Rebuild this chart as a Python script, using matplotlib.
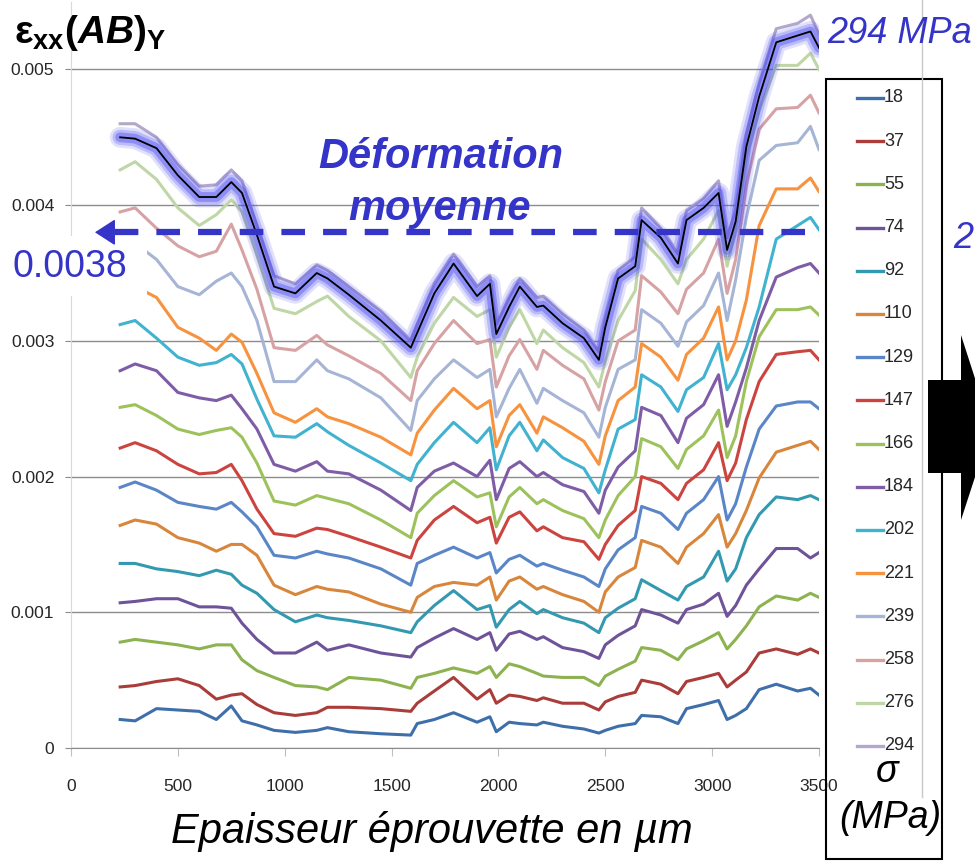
import numpy as np
import matplotlib.pyplot as plt
from matplotlib.patches import Rectangle, Polygon
from matplotlib.lines import Line2D

plt.rcParams['mathtext.fontset'] = 'custom'
plt.rcParams['mathtext.rm'] = 'Liberation Sans'
plt.rcParams['mathtext.bf'] = 'Liberation Sans:bold'
plt.rcParams['mathtext.it'] = 'Liberation Sans:italic'
plt.rcParams['mathtext.bfit'] = 'Liberation Sans:bold:italic'
plt.rcParams['lines.scale_dashes'] = False

# --- data (strain in 1e-4 units) ---
x_um = [230, 300, 400, 500, 600, 680, 750, 800, 870, 950,
        1050, 1150, 1200, 1300, 1450, 1590, 1620, 1700, 1790, 1900,
        1960, 1990, 2050, 2100, 2180, 2210, 2300, 2400, 2470, 2500,
        2560, 2640, 2670, 2760, 2840, 2880, 2960, 3030, 3070, 3110,
        3160, 3220, 3300, 3400, 3460, 3500]

stress = [18, 37, 55, 74, 92, 110, 129, 147, 166, 184, 202, 221, 239, 258, 276, 294]

s18 = [2.1, 2.0, 2.9, 2.8, 2.7, 2.1, 3.1, 2.0, 1.7, 1.3,
       1.15, 1.3, 1.5, 1.2, 1.05, 0.95, 1.8, 2.1, 2.6, 1.9,
       2.3, 1.2, 1.9, 1.8, 1.7, 1.9, 1.6, 1.4, 1.1, 1.3,
       1.6, 1.8, 2.4, 2.3, 1.8, 2.9, 3.2, 3.5, 2.1, 2.4,
       2.9, 4.3, 4.7, 4.2, 4.4, 3.9]
s37 = [4.5, 4.6, 4.9, 5.1, 4.6, 3.6, 3.9, 4.0, 3.2, 2.6,
       2.4, 2.6, 3.0, 3.0, 2.9, 2.7, 3.3, 4.2, 5.2, 3.6,
       4.3, 3.3, 3.9, 3.8, 3.5, 3.7, 3.3, 3.3, 2.8, 3.4,
       3.8, 4.1, 5.0, 4.7, 4.0, 4.9, 5.2, 5.5, 4.5, 5.0,
       5.6, 7.0, 7.3, 6.9, 7.3, 7.0]
s55 = [7.8, 8.0, 7.8, 7.6, 7.3, 7.6, 7.6, 6.5, 5.7, 5.2,
       4.6, 4.5, 4.3, 5.2, 5.0, 4.4, 5.2, 5.5, 5.9, 5.5,
       6.0, 5.2, 6.2, 6.0, 5.5, 5.3, 5.2, 5.2, 4.6, 5.3,
       5.8, 6.4, 7.4, 7.2, 6.5, 7.3, 7.9, 8.5, 7.3, 8.0,
       9.0, 10.4, 11.2, 10.9, 11.4, 11.1]
s74 = [10.7, 10.8, 11.0, 11.0, 10.4, 10.4, 10.3, 9.2, 8.0, 7.0,
       7.0, 7.8, 7.2, 7.6, 7.0, 6.7, 7.4, 8.1, 8.8, 8.0,
       8.5, 7.2, 8.4, 8.6, 8.0, 8.2, 7.4, 7.1, 6.6, 7.6,
       8.3, 9.0, 10.2, 9.8, 9.2, 10.2, 10.6, 11.4, 9.7, 10.5,
       12.0, 13.2, 14.7, 14.7, 14.0, 14.4]
s92 = [13.6, 13.6, 13.2, 13.0, 12.7, 13.1, 12.8, 12.0, 11.4, 10.2,
       9.3, 9.8, 9.6, 9.4, 9.0, 8.5, 9.3, 10.5, 11.6, 10.2,
       10.5, 8.9, 10.2, 10.8, 9.9, 10.2, 9.6, 9.2, 8.5, 9.6,
       10.3, 11.0, 12.4, 11.6, 10.9, 11.9, 12.6, 14.5, 12.3, 13.2,
       15.5, 17.2, 18.5, 18.3, 18.6, 18.3]
s110 = [16.4, 16.8, 16.5, 15.5, 15.1, 14.5, 15.0, 15.0, 14.2, 12.0,
        11.3, 11.9, 11.7, 11.5, 10.6, 10.0, 11.1, 11.9, 12.2, 12.0,
        12.6, 10.9, 12.3, 12.6, 11.7, 11.9, 11.3, 10.8, 10.0, 11.5,
        12.6, 13.3, 15.3, 14.8, 13.6, 14.8, 15.8, 17.2, 14.8, 15.8,
        17.5, 19.9, 21.8, 22.3, 22.6, 22.0]
s129 = [19.2, 19.6, 19.0, 18.1, 17.8, 17.6, 18.1, 17.4, 16.3, 14.2,
        14.0, 14.5, 14.3, 14.0, 13.2, 12.0, 13.6, 14.2, 14.8, 14.0,
        14.4, 12.9, 13.9, 14.2, 13.4, 13.6, 13.1, 12.6, 11.9, 13.2,
        14.6, 15.5, 17.8, 17.3, 16.1, 17.3, 18.3, 20.0, 16.8, 18.0,
        20.7, 23.5, 25.2, 25.5, 25.5, 25.0]
s147 = [22.1, 22.5, 21.9, 20.9, 20.2, 20.3, 20.9, 19.7, 17.6, 15.8,
        15.6, 16.2, 16.1, 15.6, 14.8, 14.0, 15.3, 16.8, 17.8, 16.6,
        17.0, 15.1, 17.0, 17.4, 16.0, 16.3, 15.5, 15.2, 13.9, 15.0,
        16.4, 17.5, 20.0, 19.5, 18.3, 19.5, 20.5, 22.5, 19.7, 21.0,
        24.2, 27.0, 29.0, 29.2, 29.3, 28.6]
s166 = [25.1, 25.3, 24.5, 23.5, 23.1, 23.4, 23.6, 22.9, 21.0, 18.2,
        17.9, 18.6, 18.4, 18.0, 16.8, 15.5, 17.3, 18.6, 19.7, 18.5,
        18.8, 16.3, 18.5, 19.2, 18.0, 18.3, 17.5, 16.9, 15.5, 16.8,
        18.6, 20.0, 22.8, 22.2, 20.6, 22.0, 23.0, 24.9, 21.4, 23.0,
        27.0, 30.3, 32.3, 32.3, 32.5, 31.9]
s184 = [27.8, 28.3, 27.8, 26.2, 25.8, 25.6, 26.0, 25.0, 23.5, 20.9,
        20.4, 21.1, 20.4, 20.2, 19.0, 17.5, 19.2, 20.4, 21.0, 20.0,
        21.2, 18.3, 20.6, 21.1, 20.0, 20.3, 19.4, 18.9, 17.3, 19.0,
        20.7, 21.9, 25.1, 24.5, 22.5, 24.3, 25.3, 27.5, 23.7, 25.5,
        28.0, 31.5, 34.7, 35.4, 35.7, 35.0]
s202 = [31.2, 31.5, 30.2, 28.8, 28.2, 28.4, 29.0, 28.3, 25.7, 23.0,
        22.9, 23.9, 23.3, 22.3, 21.0, 19.7, 20.9, 22.5, 24.0, 22.5,
        23.6, 20.5, 23.0, 24.0, 21.9, 22.7, 21.4, 20.6, 18.8, 20.5,
        23.5, 24.2, 27.5, 26.6, 24.8, 26.4, 27.3, 29.8, 26.4, 27.5,
        29.5, 32.5, 37.5, 38.5, 39.1, 38.2]
s221 = [34.2, 34.0, 33.2, 31.0, 30.2, 29.3, 30.5, 29.9, 27.6, 24.7,
        24.0, 25.0, 24.4, 23.9, 22.9, 21.6, 23.2, 24.9, 26.5, 25.0,
        25.6, 22.2, 24.5, 25.3, 23.2, 24.4, 23.6, 22.6, 20.9, 23.0,
        25.6, 26.6, 29.8, 28.8, 27.1, 29.0, 30.2, 32.5, 28.6, 30.0,
        33.0, 38.5, 41.2, 41.2, 42.0, 41.0]
s239 = [37.0, 37.2, 36.0, 34.0, 33.4, 34.4, 35.0, 34.0, 31.5, 27.0,
        27.0, 28.6, 27.8, 27.2, 25.8, 23.4, 25.6, 27.2, 28.6, 27.3,
        27.9, 24.4, 26.5, 27.9, 25.4, 26.5, 25.6, 24.7, 22.9, 25.1,
        27.9, 28.6, 32.3, 31.3, 29.6, 31.4, 32.6, 35.0, 31.5, 34.5,
        39.1, 43.3, 44.4, 44.6, 45.8, 44.1]
s258 = [39.5, 39.8, 38.3, 37.0, 36.2, 36.6, 38.6, 36.7, 33.8, 29.5,
        29.3, 30.4, 29.7, 28.9, 27.6, 25.6, 27.8, 29.8, 31.5, 29.8,
        30.1, 26.6, 28.9, 30.1, 27.9, 29.3, 28.2, 27.2, 24.9, 27.0,
        30.0, 30.8, 34.8, 33.6, 32.0, 33.8, 35.0, 37.5, 33.5, 36.0,
        41.5, 45.6, 47.1, 47.2, 48.1, 46.8]
s276 = [42.6, 43.2, 41.9, 39.8, 38.5, 39.3, 40.4, 39.5, 36.3, 32.4,
        32.0, 32.9, 33.3, 31.8, 30.0, 27.3, 28.8, 31.3, 33.2, 31.8,
        32.3, 28.8, 31.0, 32.3, 29.8, 30.8, 29.5, 28.4, 26.6, 28.5,
        31.5, 33.7, 37.5, 36.0, 34.2, 36.0, 37.5, 39.6, 35.5, 38.2,
        43.5, 47.0, 50.3, 50.3, 51.2, 50.0]
s294 = [46.0, 46.0, 45.0, 43.0, 41.4, 41.5, 42.6, 41.8, 38.5, 34.8,
        34.2, 35.6, 35.2, 34.0, 32.2, 30.0, 31.2, 34.2, 36.4, 34.0,
        34.8, 31.2, 33.2, 34.6, 33.2, 33.3, 32.0, 30.8, 29.2, 31.6,
        35.2, 36.2, 39.8, 38.3, 36.4, 39.6, 40.5, 41.8, 37.6, 39.6,
        45.2, 49.0, 53.0, 53.4, 54.0, 52.6]

# hand-traced "mean deformation" line (black with glow)
mean_line = [45.0, 44.9, 44.2, 42.2, 40.6, 40.6, 41.7, 40.9, 37.8, 34.0,
             33.5, 35.0, 34.6, 33.4, 31.5, 29.5, 30.6, 33.5, 35.7, 33.3,
             34.2, 30.5, 32.5, 34.0, 32.5, 32.6, 31.3, 30.2, 28.6, 31.0,
             34.6, 35.5, 38.9, 37.6, 35.7, 38.9, 39.8, 40.9, 36.7, 38.8,
             44.3, 48.0, 52.0, 52.5, 52.8, 51.6]

series = [s18, s37, s55, s74, s92, s110, s129, s147,
          s166, s184, s202, s221, s239, s258, s276, s294]
colors = ['#3f6faa', '#aa3c3a', '#8db350', '#6e5399', '#3399b0', '#d8863c',
          '#5a86c8', '#cc4440', '#9dc25c', '#7e5ca6', '#41b2cf', '#f7923e',
          '#a6b5d6', '#d7a2a4', '#bfd6a6', '#b3a8ca']

mean_value = 0.0038
blue = '#3434c8'

W, H = 975, 861
fig = plt.figure(figsize=(W / 100, H / 100), dpi=100)


def fx(px):
    return px / W


def fy(py):
    return 1 - py / H


ax = fig.add_axes([fx(71), fy(748), (819 - 71) / W, 746.4 / H])

x = np.array(x_um)
for vals, col in zip(series, colors):
    ax.plot(x, np.array(vals) * 1e-4, color=col, lw=2.2, zorder=2)

# glow + black mean line
m = np.array(mean_line) * 1e-4
for lw, a in [(15, 0.16), (11, 0.25), (7, 0.4)]:
    ax.plot(x, m, color='#4a4af2', lw=lw, alpha=a, zorder=2.4,
            solid_capstyle='round', solid_joinstyle='round')
ax.plot(x, m, color='black', lw=1.3, zorder=2.6)

ax.set_xlim(0, 3500)
ax.set_ylim(0, 0.0055)
ax.set_xticks(range(0, 3501, 500))
ax.set_yticks([0, 0.001, 0.002, 0.003, 0.004, 0.005])
ax.set_yticklabels(['0', '0.001', '0.002', '0.003', '0.004', '0.005'])
ax.yaxis.grid(True, color='#8c8c8c', lw=1)
ax.set_axisbelow(True)
for s in ['top', 'right']:
    ax.spines[s].set_visible(False)
ax.spines['left'].set_color('#d9d9d9')
ax.spines['bottom'].set_color('#8c8c8c')
ax.tick_params(axis='y', length=4, color='#8c8c8c', pad=8)
ax.tick_params(axis='x', length=6, color='#bfbfbf', pad=16)
sans = 'Liberation Sans'
for lab in ax.get_xticklabels() + ax.get_yticklabels():
    lab.set_family(sans)
    lab.set_fontsize(12.5)
    lab.set_color('#262626')

# white box behind the 0.0038 label
ax.add_patch(Rectangle((0, fy(296)), fx(147), fy(236) - fy(296),
                       transform=fig.transFigure, facecolor='white',
                       edgecolor='none', zorder=3, clip_on=False))

# dashed mean line with arrow
ax.plot([3435, 197], [mean_value, mean_value], color=blue, lw=4.5,
        ls=(0, (17, 13)), zorder=4, dash_capstyle='butt')
ax.annotate('', xy=(112, mean_value), xytext=(197, mean_value),
            arrowprops=dict(arrowstyle='-|>,head_length=0.65,head_width=0.42',
                            mutation_scale=20, color=blue, lw=1,
                            shrinkA=0, shrinkB=0),
            zorder=4, annotation_clip=False)

fig.text(fx(13), fy(277), '0.0038', color=blue, fontsize=27, family=sans,
         va='baseline', ha='left')
fig.text(fx(441), fy(168), 'Déformation', color=blue, fontsize=30, family=sans,
         fontweight='bold', fontstyle='italic', ha='center', va='baseline')
fig.text(fx(440), fy(220), 'moyenne', color=blue, fontsize=30, family=sans,
         fontweight='bold', fontstyle='italic', ha='center', va='baseline')
fig.text(fx(972), fy(43), '294 MPa', color=blue, fontsize=26, family=sans,
         fontstyle='italic', ha='right', va='baseline')
fig.text(fx(953), fy(248), '2', color=blue, fontsize=26, family=sans,
         fontstyle='italic', ha='left', va='baseline')

# axis titles
fig.text(fx(14), fy(43), r'$\mathbf{ε_{xx}(}\mathbfit{AB}\mathbf{)_{Y}}$',
         fontsize=28, ha='left', va='baseline')
fig.text(fx(432), fy(843), 'Epaisseur éprouvette en µm', fontsize=30,
         family=sans, fontstyle='italic', ha='center', va='baseline')

# chart border line and legend box
fig.add_artist(Line2D([fx(922), fx(922)], [fy(0), fy(797)], color='#c8c8c8', lw=1))
fig.add_artist(Rectangle((fx(826), fy(859)), fx(942) - fx(826), fy(79) - fy(859),
                         transform=fig.transFigure, fill=False,
                         edgecolor='black', lw=1.5))
for i, (lab, col) in enumerate(zip(stress, colors)):
    yy = 98 + i * 43.2
    fig.add_artist(Line2D([fx(857), fx(883)], [fy(yy), fy(yy)], color=col, lw=2.4))
    fig.text(fx(884), fy(yy), str(lab), fontsize=13, family=sans,
             color='#262626', ha='left', va='center')
fig.text(fx(887), fy(782), 'σ', fontsize=27, family=sans, fontstyle='italic',
         ha='center', va='baseline')
fig.text(fx(890), fy(828), '(MPa)', fontsize=27, family=sans, fontstyle='italic',
         ha='center', va='baseline')

# big black arrow on the right
arrow_px = [(928, 380), (961, 380), (961, 335), (991, 428), (961, 520),
            (961, 473), (928, 473)]
fig.add_artist(Polygon([(fx(a), fy(b)) for a, b in arrow_px], closed=True,
                       transform=fig.transFigure, facecolor='black',
                       edgecolor='none'))

fig.savefig('out.png', dpi=100)
